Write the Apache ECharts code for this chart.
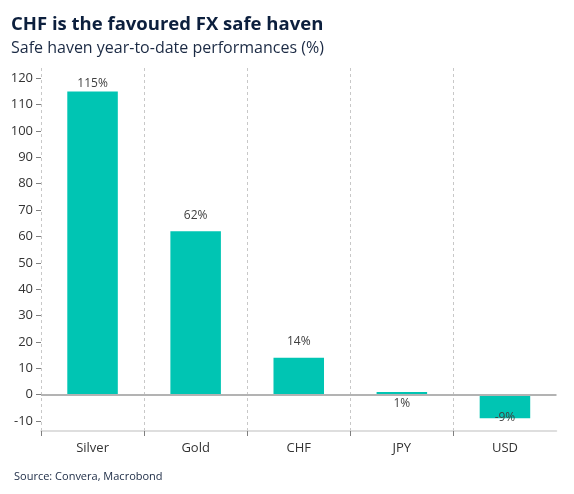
<!DOCTYPE html>
<html>
<head>
<meta charset="utf-8">
<script src="https://cdn.jsdelivr.net/npm/echarts@6/dist/echarts.min.js"></script>
<style>
html,body{margin:0;padding:0;background:#fff;}
#c{width:574px;height:494px;}
</style>
</head>
<body>
<div id="c"></div>
<script>
const categories = ['Silver', 'Gold', 'CHF', 'JPY', 'USD'];
const values = [115, 62, 14, 1, -9];
const valueLabels = ['115%', '62%', '14%', '1%', '-9%'];
const yTicks = [-10, 0, 10, 20, 30, 40, 50, 60, 70, 80, 90, 100, 110, 120];

const titleText = 'CHF is the favoured FX safe haven';
const subtitleText = 'Safe haven year-to-date performances (%)';
const sourceText = 'Source: Convera, Macrobond';

const FONT = '"Open Sans", "Noto Sans", sans-serif';
const BAR = '#00c5b3';

// label placement per bar (style only)
const labelStyles = [
  { position: 'top', distance: 2 },
  { position: 'top', distance: 10 },
  { position: 'top', distance: 10 },
  { position: 'bottom', distance: 3 },
  { position: 'inside', offset: [0, 11] }
];

const boundaries = categories.map((c, i) => String(i)).concat(String(categories.length));

const chart = echarts.init(document.getElementById('c'), null, { renderer: 'canvas' });
chart.setOption({
  animation: false,
  backgroundColor: '#fff',
  textStyle: { fontFamily: FONT },
  title: [
    { text: titleText, left: 6, top: 10,
      textStyle: { fontFamily: FONT, fontSize: 18.5, fontWeight: 'bold', color: '#0c1f3d' } },
    { text: subtitleText, left: 6, top: 35,
      textStyle: { fontFamily: FONT, fontSize: 16, fontWeight: 'normal', color: '#1b2a44' } },
    { text: sourceText, left: 9, top: 466,
      textStyle: { fontFamily: FONT, fontSize: 11, fontWeight: 'normal', color: '#1b2a44' } }
  ],
  grid: { left: 41, right: 17.5, top: 68, bottom: 63, containLabel: false },
  xAxis: [
    {
      type: 'category',
      data: categories,
      position: 'bottom',
      axisLine: { show: false },
      axisTick: { show: false },
      splitLine: { show: false },
      axisLabel: { color: '#333', fontSize: 13, margin: 11, fontFamily: FONT }
    },
    {
      type: 'category',
      data: boundaries,
      boundaryGap: false,
      position: 'bottom',
      axisLine: { show: true, onZero: false, lineStyle: { color: '#d4d4d4', width: 1.5 } },
      axisTick: { show: true, length: 5, interval: (i) => i < categories.length, lineStyle: { color: '#7f7f7f', width: 1 } },
      axisLabel: { show: false },
      splitLine: { show: true, interval: (i) => i < categories.length, lineStyle: { color: '#c8c8c8', type: [3, 3], width: 1 } }
    }
  ],
  yAxis: {
    type: 'value',
    min: -13.8,
    max: 123.9,
    axisLine: { show: false },
    axisTick: { show: true, length: 5, customValues: yTicks, lineStyle: { color: '#7f7f7f' } },
    axisLabel: { customValues: yTicks, color: '#333', fontSize: 13, margin: 8, fontFamily: FONT },
    splitLine: { show: false }
  },
  series: [{
    type: 'bar',
    xAxisIndex: 0,
    barWidth: '49%',
    itemStyle: { color: BAR },
    data: values.map((v, i) => ({
      value: v,
      label: Object.assign({
        show: true,
        formatter: valueLabels[i],
        color: '#404040',
        fontSize: 12,
        fontFamily: FONT
      }, labelStyles[i])
    })),
    markLine: {
      silent: true,
      symbol: ['none', 'none'],
      label: { show: false },
      lineStyle: { color: '#b3b3b3', width: 2, type: 'solid' },
      data: [{ yAxis: 0 }]
    },
    z: 2
  }]
});
</script>
</body>
</html>
